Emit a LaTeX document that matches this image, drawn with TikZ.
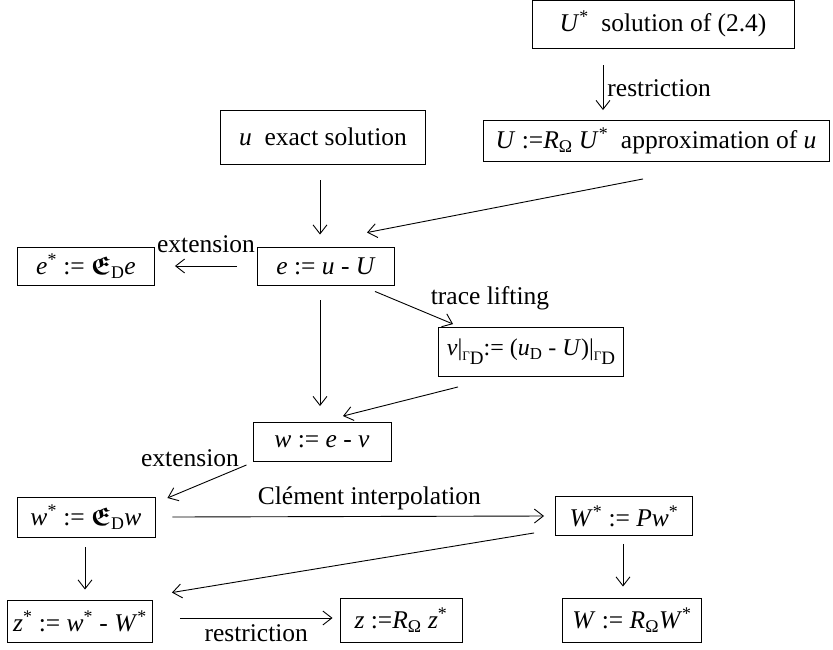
\documentclass[tikz,border=0pt]{standalone}
\usepackage{amsmath}
\usepackage{amssymb}
\usepackage{fontspec}
\setmainfont{Liberation Serif}
\usetikzlibrary{arrows.meta}
\usetikzlibrary{calc}
\newcommand{\ii}[1]{\textit{#1}}
\newcommand{\frE}{$\boldsymbol{\mathfrak{E}}$\textsubscript{D}}
\newcommand{\GamD}{\raisebox{-0.4ex}{\fontsize{13}{15}\selectfont Γ}\raisebox{-0.8ex}{\fontsize{19}{21}\selectfont D}}

\begin{document}
\begin{tikzpicture}[x=1pt, y=-1pt, line width=0.9pt,
    >={Straight Barb[length=9pt,width=14pt]},
    box/.style={draw, inner sep=0pt, font=\fontsize{25.5}{30}\selectfont},
    lbl/.style={inner sep=0pt, font=\fontsize{25.5}{30}\selectfont}]
  \useasboundingbox (0,0) rectangle (833,649);

  %nodes
  \node[box, minimum width=262, minimum height=48] (Ustar) at (663,24) {\ii{U}\textsuperscript{*}\ \ solution of (2.4)};
  \node[box, minimum width=346, minimum height=41] (Uapp) at (656,141) {\ii{U} :=\ii{R}\textsubscript{Ω} \ii{U}\textsuperscript{*}\ \ approximation of \ii{u}};
  \node[box, minimum width=205, minimum height=54] (uex) at (323,137) {\ii{u}\ \ exact solution};
  \node[box, minimum width=137, minimum height=38] (err) at (326,266) {\ii{e} := \ii{u} - \ii{U}};
  \node[box, minimum width=137, minimum height=38] (errstar) at (86,266) {\ii{e}\textsuperscript{*} := \frE\ii{e}};
  \node[box, minimum width=185, minimum height=49, font=\fontsize{24}{28}\selectfont] (lift) at (531,352) {\ii{v}|\GamD:= (\ii{u}\textsubscript{D} - \ii{U})|\GamD};
  \node[box, minimum width=138, minimum height=39] (wdef) at (322,442) {\ii{w} := \ii{e} - \ii{v}};
  \node[box, minimum width=138, minimum height=40] (wstar) at (86,517) {\ii{w}\textsuperscript{*} := \frE\ii{w}};
  \node[box, minimum width=137, minimum height=39] (Wstar) at (624,516) {\ii{W}\textsuperscript{*} := \ii{Pw}\textsuperscript{*}};
  \node[box, minimum width=145, minimum height=42] (zstar) at (80,621) {\ii{z}\textsuperscript{*} := \ii{w}\textsuperscript{*} - \ii{W}\textsuperscript{*}};
  \node[box, minimum width=122, minimum height=44] (zdef) at (401,620) {\ii{z} :=\ii{R}\textsubscript{Ω} \ii{z}\textsuperscript{*}};
  \node[box, minimum width=139, minimum height=44] (Wdef) at (632,620) {\ii{W} := \ii{R}\textsubscript{Ω}\ii{W}\textsuperscript{*}};

  %arrows
  \draw[->] ($(Ustar.south)+(-60,17)$) -- node[lbl, right=4pt]{restriction} ($(Uapp.north)+(-53,-10)$);
  \draw[->] ($(uex.south)+(-3,16)$) -- ($(err.north)+(-6,-12)$);
  \draw[->] ($(Uapp.south)+(-13,17)$) -- ($(err.north)+(41,-14)$);
  \draw[->] ($(err.west)+(-20,0)$) -- ($(errstar.east)+(20,0)$);
  \node[lbl] (ext1) at (206,244) {extension};
  \draw[->] ($(err.south)+(49,6)$) -- ($(lift.north west)+(15,-3)$);
  \node[lbl] (trace) at (490,298) {trace lifting};
  \draw[->] ($(err.south)+(-6,15)$) -- ($(wdef.north)+(-2,-16)$);
  \draw[->] ($(lift.south)+(-73,10)$) -- ($(wdef.north)+(21,-6)$);
  \draw[->] ($(wdef.south west)+(-6,3)$) -- ($(wstar.east)+(12,-19)$);
  \node[lbl] (ext2) at (190,458) {extension};
  \draw[->] ($(wstar.east)+(17,0)$) -- node[lbl, above=6pt, pos=0.53]{Clément interpolation} ($(Wstar.west)+(-11,0)$);
  \draw[->] ($(wstar.south)+(-1,10)$) -- ($(zstar.north)+(5,-10)$);
  \draw[->] ($(Wstar.south west)+(-21,-3)$) -- ($(zstar.north east)+(19,-7)$);
  \draw[->] ($(zstar.east)+(27,-3)$) -- node[lbl, below=6pt]{restriction} ($(zdef.west)+(-7,-2)$);
  \draw[->] ($(Wstar.south)+(-1,8)$) -- ($(Wdef.north)+(-9,-11)$);
\end{tikzpicture}
\end{document}
